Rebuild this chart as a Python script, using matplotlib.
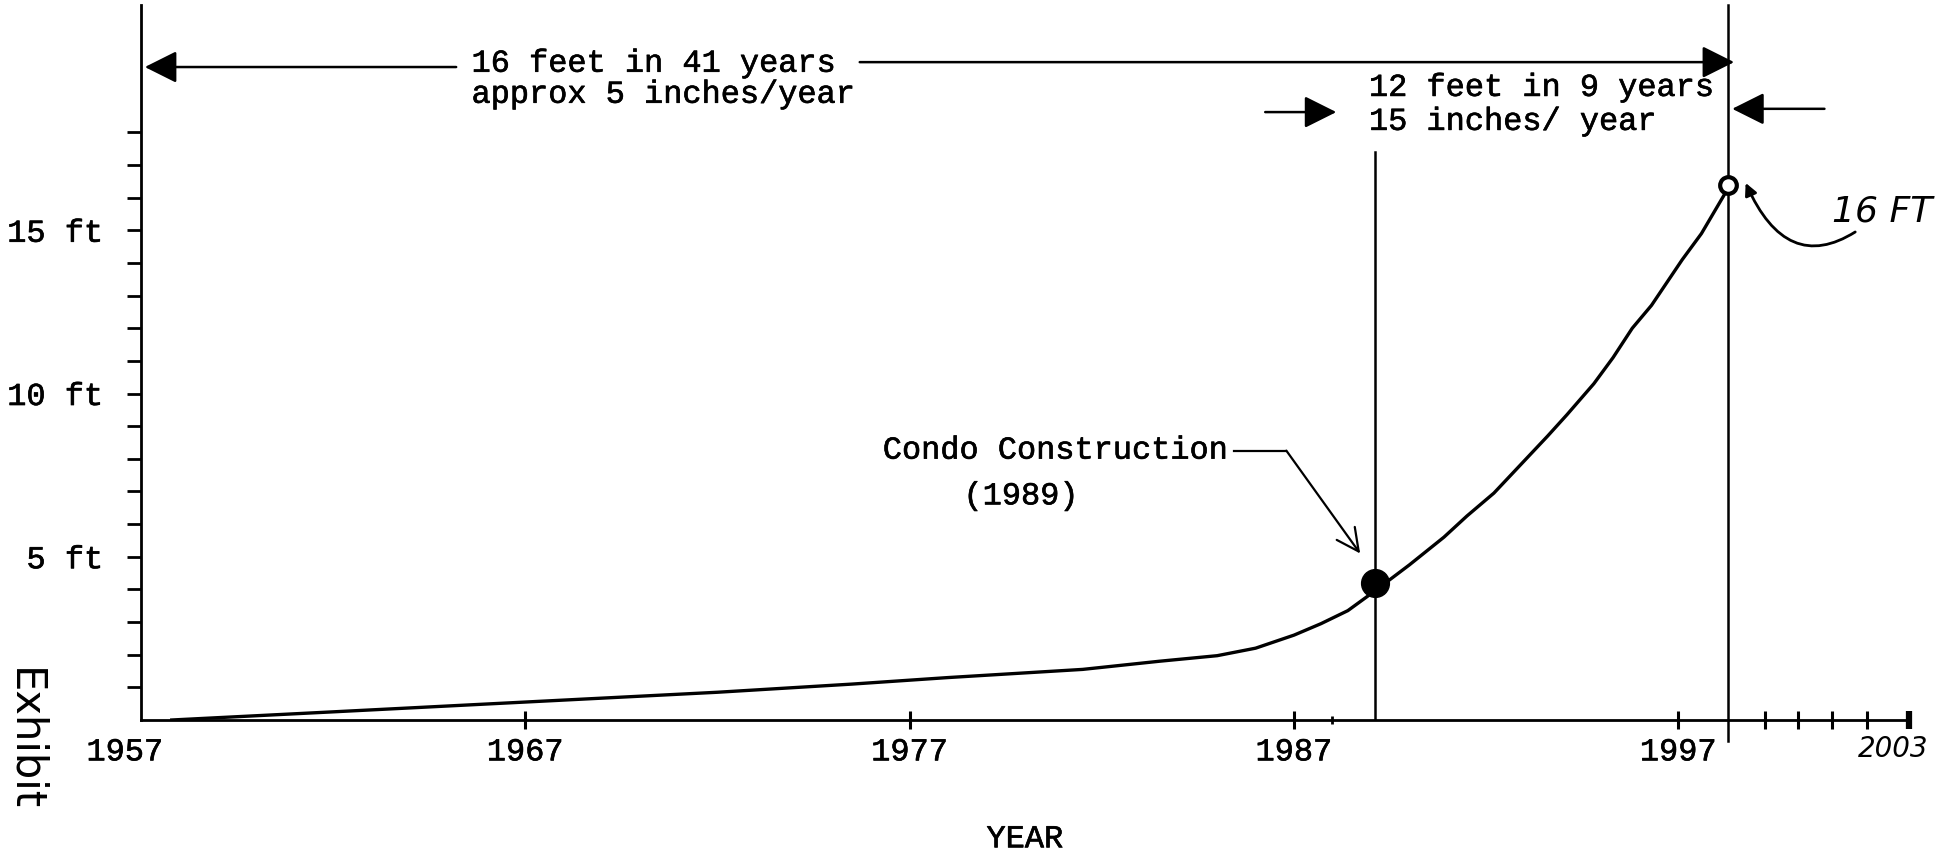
import matplotlib
matplotlib.use("Agg")
import matplotlib.pyplot as plt
import matplotlib.patheffects as pe
from matplotlib.ticker import FixedLocator, NullFormatter
from matplotlib.transforms import ScaledTranslation

# water depth curve
years = [1957.8, 1962, 1967, 1972, 1975.5, 1978, 1981.5, 1983.5, 1985, 1986.0,
         1987.0, 1987.7, 1988.4, 1989.1, 1990.0, 1990.9, 1991.5, 1992.2, 1992.8,
         1993.6, 1994.1, 1994.8, 1995.3, 1995.8, 1996.3, 1996.7, 1997.1, 1997.6,
         1998.0, 1998.3]
depth_ft = [0.0, 0.25, 0.55, 0.85, 1.1, 1.3, 1.55, 1.8, 1.97, 2.2,
            2.6, 2.95, 3.35, 3.95, 4.75, 5.6, 6.25, 6.95, 7.7,
            8.7, 9.35, 10.3, 11.1, 12.0, 12.7, 13.4, 14.1, 14.9,
            15.7, 16.3]

decade_years = [1957, 1967, 1977, 1987, 1997]
decade_labels = ["1957", "1967", "1977", "1987", "1997"]
late_ticks = [1999.25, 2000.1, 2001.0, 2001.9]
end_year = 2003
small_ticks = [1988]

ft_major = [5, 10, 15]
ft_labels = ["5 ft", "10 ft", "15 ft"]
ft_minor = [1, 2, 3, 4, 6, 7, 8, 9, 11, 12, 13, 14, 16, 17, 18]

condo_year, condo_ft = 1989.1, 4.2
last_year, last_ft = 1998.3, 16.4

plt.rcParams["font.family"] = ["Liberation Mono", "DejaVu Sans"]
FS = 23
ink = [pe.withStroke(linewidth=0.45, foreground="black")]

fig = plt.figure(figsize=(19.56, 8.54), dpi=100)
ax = fig.add_axes([141 / 1956, 133 / 854, 1768 / 1956, 715 / 854])
ax.set_xlim(1957, end_year)
ax.set_ylim(0, 21.9)

for s in ["top", "right"]:
    ax.spines[s].set_visible(False)
ax.spines["left"].set_linewidth(2)
ax.spines["bottom"].set_linewidth(2)

# curve + points
ax.plot(years, depth_ft, color="black", lw=2.4, solid_joinstyle="round")
ax.plot(condo_year, condo_ft, "o", ms=20, color="black")
ax.plot(last_year, last_ft, "o", ms=12, mfc="white", mec="black", mew=3,
        clip_on=False, zorder=5)

# vertical reference lines
ax.plot([condo_year, condo_year], [0, 17.4], color="black", lw=1.8)
ax.plot([last_year, last_year], [-0.65, 21.9], color="black", lw=1.8,
        clip_on=False)

# x ticks
ax.xaxis.set_major_locator(FixedLocator(decade_years + late_ticks + [end_year]))
ax.set_xticklabels(decade_labels + [""] * (len(late_ticks) + 1))
ax.xaxis.set_minor_locator(FixedLocator(small_ticks))
ax.xaxis.set_minor_formatter(NullFormatter())
ax.tick_params(axis="x", which="major", direction="inout", length=13,
               width=2.2, labelsize=FS, pad=6)
ax.tick_params(axis="x", which="minor", direction="inout", length=6, width=2)
xt = ax.xaxis.get_major_ticks()
xt[0].tick1line.set_visible(False)
xt[-1].tick1line.set_markeredgewidth(4.5)
lab0 = ax.get_xticklabels()[0]
lab0.set_transform(lab0.get_transform() + ScaledTranslation(-0.16, 0, fig.dpi_scale_trans))

# y ticks
ax.yaxis.set_major_locator(FixedLocator(ft_major))
ax.set_yticklabels(ft_labels)
ax.yaxis.set_minor_locator(FixedLocator(ft_minor))
ax.yaxis.set_minor_formatter(NullFormatter())
ax.tick_params(axis="y", which="both", direction="out", length=10, width=2,
               labelsize=FS, pad=17)

for lab in ax.get_xticklabels() + ax.get_yticklabels():
    lab.set_path_effects(ink)

# long-term arrow across the top
head = dict(arrowstyle="-|>,head_length=0.9,head_width=0.45", color="black",
            lw=1.8, shrinkA=0, shrinkB=0, mutation_scale=22)
ax.annotate("", xy=(1957.1, 20.0), xytext=(1965.2, 20.0), arrowprops=head,
            annotation_clip=False)
ax.annotate("", xy=(1998.45, 20.15), xytext=(1975.7, 20.15), arrowprops=head,
            annotation_clip=False)
ax.text(1965.6, 20.1, "16 feet in 41 years", fontsize=FS, va="center",
        ha="left", path_effects=ink)
ax.text(1965.6, 19.15, "approx 5 inches/year", fontsize=FS, va="center",
        ha="left", path_effects=ink)

# recent-period arrows
ax.annotate("", xy=(1988.1, 18.62), xytext=(1986.25, 18.62), arrowprops=head,
            annotation_clip=False)
ax.annotate("", xy=(1998.4, 18.72), xytext=(2000.8, 18.72), arrowprops=head,
            annotation_clip=False)
ax.text(1988.95, 19.36, "12 feet in 9 years", fontsize=FS, va="center",
        ha="left", path_effects=ink)
ax.text(1988.95, 18.32, "15 inches/ year", fontsize=FS, va="center",
        ha="left", path_effects=ink)

# condo annotation
ax.text(1976.3, 8.25, "Condo Construction", fontsize=FS, va="center",
        ha="left", path_effects=ink)
ax.text(1978.4, 6.85, "(1989)", fontsize=FS, va="center", ha="left",
        path_effects=ink)
ax.plot([1985.45, 1986.8], [8.25, 8.25], color="black", lw=1.6)
ax.annotate("", xy=(1988.72, 5.1), xytext=(1986.8, 8.25),
            arrowprops=dict(arrowstyle="->,head_length=0.8,head_width=0.4",
                            color="black", lw=1.6, shrinkA=0, shrinkB=0,
                            mutation_scale=20))

# hand-written notes
ax.annotate("16 FT", xy=(1998.75, 16.45), xytext=(2001.0, 15.6),
            fontsize=26, style="italic", family="DejaVu Sans", va="center",
            ha="left", annotation_clip=False,
            arrowprops=dict(arrowstyle="-|>", color="black", lw=2,
                            connectionstyle="arc3,rad=-0.7", shrinkA=2,
                            shrinkB=0, mutation_scale=18))
ax.text(2002.6, -0.85, "2003", fontsize=20, style="italic", family="DejaVu Sans",
        va="center", ha="center")

ax.set_xlabel("YEAR", fontsize=FS, labelpad=41, path_effects=ink)
fig.text(24 / 1956, 1 - 740 / 854, "Exhibit", rotation=-90, fontsize=30,
         family="DejaVu Sans", ha="center", va="center")

fig.savefig("out.png", dpi=100, facecolor="white")
